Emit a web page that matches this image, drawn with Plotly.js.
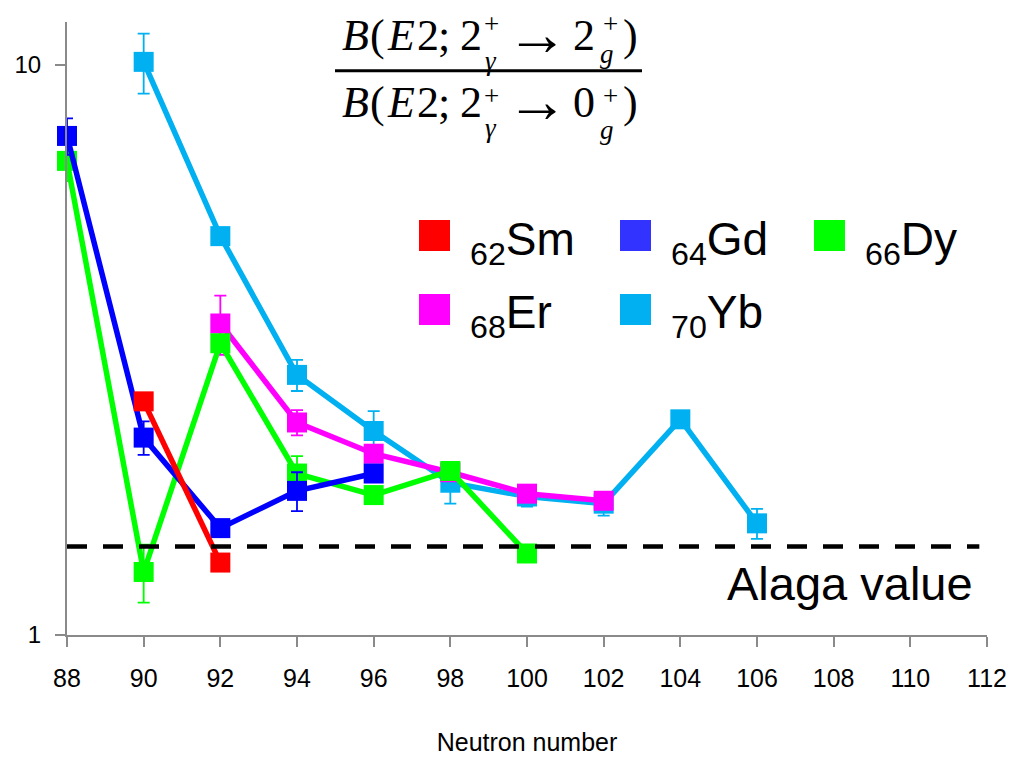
<!DOCTYPE html>
<html>
<head>
<meta charset="utf-8">
<script src="https://cdn.plot.ly/plotly-3.0.1.min.js"></script>
<style>html,body{margin:0;padding:0;background:#fff;}#chart{width:1012px;height:759px;}</style>
</head>
<body>
<div id="chart"></div>
<script>
// ---- data ----
var sm_x = [90, 92];
var sm_y = [2.57, 1.34];
var sm_err = [0, 0];

var gd_x = [88, 90, 92, 94, 96];
var gd_y = [7.51, 2.22, 1.54, 1.79, 1.92];
var gd_err = [0.55, 0.15, 0, 0.14, 0];

var dy_x = [88, 90, 92, 94, 96, 98, 100];
var dy_y = [6.79, 1.29, 3.25, 1.92, 1.76, 1.94, 1.39];
var dy_err = [0.53, 0.15, 0, 0.14, 0, 0, 0];

var er_x = [92, 94, 96, 98, 100, 102];
var er_y = [3.52, 2.36, 2.08, 1.93, 1.77, 1.72];
var er_err = [0.42, 0.12, 0, 0, 0, 0];

var yb_x = [90, 92, 94, 96, 98, 100, 102, 104, 106];
var yb_y = [10.13, 5.01, 2.86, 2.28, 1.85, 1.75, 1.70, 2.39, 1.57];
var yb_err = [1.22, 0, 0.18, 0.19, 0.15, 0.07, 0.08, 0, 0.095];

var alaga_value = 1.43;
var x_ticks = [88, 90, 92, 94, 96, 98, 100, 102, 104, 106, 108, 110, 112];
var y_ticks = [1, 10];
var y_ticktext = ['1', '10'];

var series_names = ['<sub>62</sub>Sm', '<sub>64</sub>Gd', '<sub>66</sub>Dy', '<sub>68</sub>Er', '<sub>70</sub>Yb'];
var x_title = 'Neutron number';
var alaga_label = 'Alaga value';

// ---- styling ----
var C = {sm:'#FF0000', gd:'#0000FF', dy:'#00FF00', er:'#FF00FF', yb:'#00B0F0'};
var legendColors = ['#FF0000', '#3333FF', '#00FF00', '#FF00FF', '#00B0F0'];
var AX = '#8a8a8a';

// plot area in pixels
var L = 67, R = 987, T = 22, B = 635, W = 1012, H = 759;
function px(x){ return (x - L) / (R - L); }
function py(y){ return (B - y) / (B - T); }

function tr(x, y, e, col){
  return {
    x: x, y: y, type: 'scatter', mode: 'lines+markers',
    line: {color: col, width: 5.5},
    marker: {symbol: 'square', size: 20, color: col},
    error_y: {type: 'data', array: e, visible: true, color: col, thickness: 1.8, width: 6},
    showlegend: false, hoverinfo: 'skip', cliponaxis: false
  };
}

var data = [
  tr(yb_x, yb_y, yb_err, C.yb),
  tr(er_x, er_y, er_err, C.er),
  tr(dy_x, dy_y, dy_err, C.dy),
  tr(gd_x, gd_y, gd_err, C.gd),
  tr(sm_x, sm_y, sm_err, C.sm)
];

var annotations = [];
var shapes = [];

function ann(text, x, y, size, family, xanchor, color){
  annotations.push({
    text: text, xref: 'paper', yref: 'paper', x: px(x), y: py(y),
    xanchor: xanchor || 'center', yanchor: 'middle', showarrow: false,
    font: {family: family, size: size, color: color || '#000'}
  });
}

// formula (fraction)
var SERIF = 'Liberation Serif, Times New Roman, serif';
function fracLine(yMain, ySup, yGamma, yG, rhsDigit){
  ann('<i>B</i>', 355.5, yMain, 44, SERIF);
  ann('(', 377.5, yMain, 44, SERIF);
  ann('<i>E</i>', 401, yMain, 44, SERIF);
  ann('2', 427.5, yMain, 44, SERIF);
  ann(';', 443.5, yMain, 44, SERIF);
  ann('2', 471, yMain, 44, SERIF);
  ann('+', 491, ySup, 27, SERIF);
  ann('<i>γ</i>', 491, yGamma, 27, SERIF);
  ann('→', 536.5, yMain - 1, 62, SERIF);
  ann(rhsDigit, 583.5, yMain, 44, SERIF);
  ann('+', 610.5, ySup, 27, SERIF);
  ann('<i>g</i>', 607, yG, 27, SERIF);
  ann(')', 630, yMain, 44, SERIF);
}
fracLine(35, 24, 61, 54, '2');
fracLine(102, 96, 128, 130, '0');
shapes.push({type: 'line', xref: 'paper', yref: 'paper', x0: px(335), x1: px(642), y0: py(70.7), y1: py(70.7),
  line: {color: '#000', width: 3}});

// legend (custom)
var SANS = 'Liberation Sans, Arial, sans-serif';
var legPos = [[419, 220], [620, 220], [814, 220], [419, 294], [620, 294]];
for (var i = 0; i < series_names.length; i++){
  var p = legPos[i];
  shapes.push({type: 'rect', xref: 'paper', yref: 'paper', x0: px(p[0]), x1: px(p[0] + 31), y0: py(p[1]), y1: py(p[1] + 31),
    fillcolor: legendColors[i], line: {width: 0}});
  ann(series_names[i], p[0] + 49, p[1] + 22, 46, SANS, 'left');
}

// Alaga line + label
shapes.push({type: 'line', xref: 'x', yref: 'y', x0: 88, x1: 111.8, y0: alaga_value, y1: alaga_value,
  line: {color: '#000', width: 4.5, dash: '20px,16px'}, layer: 'above'});
ann(alaga_label, 975, 583, 47, SANS, 'right');

var layout = {
  width: W, height: H,
  margin: {l: L, r: W - R, t: T, b: H - B, pad: 0},
  paper_bgcolor: '#fff', plot_bgcolor: '#fff',
  showlegend: false,
  xaxis: {
    range: [88, 112], tickvals: x_ticks, ticktext: x_ticks.map(String),
    showgrid: false, zeroline: false, showline: true, linecolor: AX, linewidth: 2,
    ticks: 'outside', ticklen: 10, tickwidth: 2, tickcolor: AX,
    tickfont: {family: SANS, size: 25, color: '#000'}, ticklabelstandoff: 10,
    title: {text: x_title, font: {family: SANS, size: 25, color: '#000'}, standoff: 42},
    fixedrange: true
  },
  xaxis2: {
    range: [88, 112], tickvals: x_ticks, overlaying: 'x', anchor: 'y', side: 'bottom',
    showgrid: false, zeroline: false, showline: false, showticklabels: false,
    ticks: 'inside', ticklen: 9, tickwidth: 2, tickcolor: AX
  },
  yaxis: {
    type: 'log', range: [0, Math.log10(11.9)], tickvals: y_ticks, ticktext: y_ticktext,
    showgrid: false, zeroline: false, showline: true, linecolor: AX, linewidth: 2,
    ticks: 'outside', ticklen: 10, tickwidth: 2, tickcolor: AX,
    tickfont: {family: SANS, size: 24, color: '#000'}, ticklabelstandoff: 9,
    fixedrange: true
  },
  annotations: annotations,
  shapes: shapes
};

Plotly.newPlot('chart', data, layout, {staticPlot: true, displayModeBar: false});
</script>
</body>
</html>
